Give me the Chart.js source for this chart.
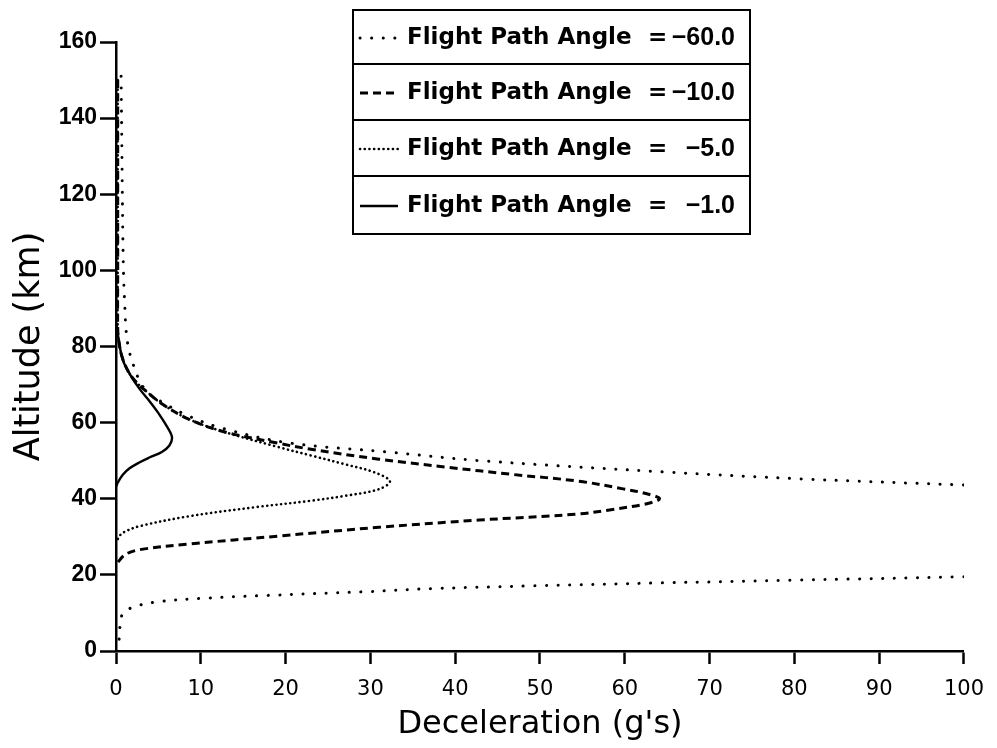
<!DOCTYPE html>
<html>
<head>
<meta charset="utf-8">
<script src="https://cdn.jsdelivr.net/npm/chart.js@4/dist/chart.umd.min.js"></script>
<style>
  html, body { margin: 0; padding: 0; background: #fff; }
  #wrap { width: 997px; height: 748px; }
</style>
</head>
<body>
<div id="wrap"><canvas id="chart" width="997" height="748"></canvas></div>
<script>
// values (deceleration in g's, altitude in km)
// gamma = -60 : leaves the plot to the right and comes back lower down (null = gap)
const decel60 = [0.6, 0.7, 0.8, 0.9, 1.05, 1.2, 1.5, 2.1, 2.7, 3.7, 5.5, 8.5, 12.4, 20.3, 32.0, 43.0, 65.0, 81.0, 100,
                 null,
                 100, 80.0, 64.4, 49.0, 37.3, 29.6, 17.8, 9.9, 4.8, 2.0, 0.8, 0.5, 0.4, 0.3];
const alt60   = [151, 130, 110, 98, 90, 84, 79.3, 74.8, 71.4, 68.0, 65.3, 61.8, 58.6, 54.7, 52.3, 50.0, 47.0, 45.2, 43.6,
                 null,
                 19.5, 18.6, 17.9, 17.1, 16.4, 15.6, 14.6, 13.8, 12.9, 11.5, 9.8, 7.0, 4.0, 0.5];

// gamma = -10
const decel10 = [0.2, 0.2, 0.2, 0.3, 0.7, 1.5, 2.4, 3.7, 5.5, 8.5, 12.4, 19.1, 23.0, 31.0, 39.0, 46.7, 54.6, 59.8, 62.6, 64.1,
                 62.6, 58.0, 54.6, 42.8, 31.0, 19.2, 8.6, 3.0, 1.2, 0.3, 0.05];
const alt10   = [150, 100, 85, 81.9, 77.4, 73.2, 70.6, 68.0, 64.8, 61.0, 57.8, 54.6, 53.0, 50.4, 48.3, 46.4, 44.6, 42.6, 41.3, 40.0,
                 38.7, 37.0, 36.0, 34.4, 32.5, 30.2, 28.1, 26.7, 25.5, 23.5, 22.3];

// gamma = -5
const decel5 = [0.2, 0.2, 0.2, 0.3, 0.7, 1.5, 2.4, 3.7, 5.5, 8.5, 12.4, 19.1, 23.1, 27.1, 30.4, 32.3,
                31.0, 27.1, 23.1, 16.5, 8.6, 2.8, 1.0, 0.4, 0.1];
const alt5   = [150, 100, 85, 81.9, 77.4, 73.2, 70.6, 68.0, 64.8, 61.0, 57.8, 53.6, 51.3, 49.0, 47.0, 44.6,
                42.5, 40.8, 39.5, 37.8, 35.4, 32.8, 31.3, 30.2, 28.8];

// gamma = -1
const decel1 = [0.05, 0.3, 0.8, 1.7, 2.8, 4.0, 5.0, 6.0, 6.6, 6.3, 5.4, 4.0, 2.8, 1.6, 0.8, 0.2, 0.05];
const alt1   = [86, 82, 76.5, 72.5, 68.8, 65.5, 62.5, 59.0, 56.2, 54.0, 52.3, 50.9, 49.6, 48.0, 46.3, 44.2, 43.3];

const seriesNames  = ["Flight Path Angle", "Flight Path Angle", "Flight Path Angle", "Flight Path Angle"];
const seriesAngles = ["\u221260.0", "\u221210.0", "\u22125.0", "\u22121.0"];

const xTicks = [0, 10, 20, 30, 40, 50, 60, 70, 80, 90, 100];
const yTicks = [0, 20, 40, 60, 80, 100, 120, 140, 160];

function pts(xs, ys) {
  return xs.map((x, i) => ({ x: x, y: ys[i] }));
}

// boxed legend, one box per row, drawn on the canvas
const boxLegend = {
  id: "boxLegend",
  afterDraw(chart) {
    const ctx = chart.ctx;
    const left = 353, right = 750;
    const rows = [[10, 64], [64, 120], [120, 176], [176, 234]];
    ctx.save();
    ctx.strokeStyle = "#000";
    ctx.lineWidth = 2;
    rows.forEach((r, i) => {
      ctx.strokeRect(left, r[0], right - left, r[1] - r[0]);
      const ds = chart.data.datasets[i];
      const cy = (r[0] + r[1]) / 2 + 1;
      ctx.save();
      ctx.lineWidth = ds.borderWidth;
      ctx.lineCap = ds.borderCapStyle || "butt";
      ctx.setLineDash(ds.borderDash || []);
      ctx.beginPath();
      ctx.moveTo(360, cy);
      ctx.lineTo(398, cy);
      ctx.stroke();
      ctx.restore();
      ctx.fillStyle = "#000";
      ctx.textBaseline = "middle";
      ctx.textAlign = "left";
      ctx.font = "bold 23px 'DejaVu Sans', sans-serif";
      ctx.fillText(seriesNames[i], 407, cy);
      ctx.fillText("=", 648, cy);
      ctx.textAlign = "right";
      ctx.font = "bold 25px 'Liberation Sans', Arial, sans-serif";
      ctx.fillText(seriesAngles[i], 735, cy);
    });
    ctx.restore();
  }
};

const ctx = document.getElementById("chart");
new Chart(ctx, {
  type: "scatter",
  data: {
    datasets: [
      { label: "-60", data: pts(decel60, alt60), showLine: true, borderColor: "#000", borderWidth: 3,
        borderDash: [0.1, 11.5], borderCapStyle: "round", pointRadius: 0, tension: 0.35, spanGaps: false },
      { label: "-10", data: pts(decel10, alt10), showLine: true, borderColor: "#000", borderWidth: 3,
        borderDash: [8, 5], pointRadius: 0, tension: 0.35 },
      { label: "-5", data: pts(decel5, alt5), showLine: true, borderColor: "#000", borderWidth: 2.6,
        borderDash: [0.1, 4.6], borderCapStyle: "round", pointRadius: 0, tension: 0.35 },
      { label: "-1", data: pts(decel1, alt1), showLine: true, borderColor: "#000", borderWidth: 2.4,
        pointRadius: 0, tension: 0.35 }
    ]
  },
  options: {
    responsive: false,
    animation: false,
    layout: { padding: { top: 42, right: 32, left: 0, bottom: 0 } },
    plugins: { legend: { display: false }, tooltip: { enabled: false } },
    scales: {
      x: {
        type: "linear",
        min: 0, max: 100,
        afterBuildTicks: (s) => { s.ticks = xTicks.map(v => ({ value: v })); },
        afterFit: (s) => { s.height = 97; },
        border: { color: "#000", width: 2.5 },
        grid: { drawOnChartArea: false, drawTicks: true, tickLength: 13, tickColor: "#000", tickWidth: 2.5 },
        ticks: { color: "#000", padding: 13, maxRotation: 0, font: { family: "'DejaVu Sans', sans-serif", size: 21 } },
        title: { display: true, text: "Deceleration (g's)", color: "#000", padding: { top: 0, bottom: 4 },
                 font: { family: "'DejaVu Sans', sans-serif", size: 32 } }
      },
      y: {
        type: "linear",
        min: 0, max: 160,
        afterBuildTicks: (s) => { s.ticks = yTicks.map(v => ({ value: v })); },
        afterFit: (s) => { s.width = 116; },
        border: { color: "#000", width: 2.5 },
        grid: { drawOnChartArea: false, drawTicks: true, tickLength: 16, tickColor: "#000", tickWidth: 2.5 },
        ticks: { color: "#000", padding: 3, font: { family: "'Liberation Sans', Arial, sans-serif", size: 23, weight: "bold" } },
        title: { display: true, text: "Altitude (km)", color: "#000", padding: { top: 9, bottom: 0 },
                 font: { family: "'DejaVu Sans', sans-serif", size: 35 } }
      }
    }
  },
  plugins: [boxLegend]
});
</script>
</body>
</html>
